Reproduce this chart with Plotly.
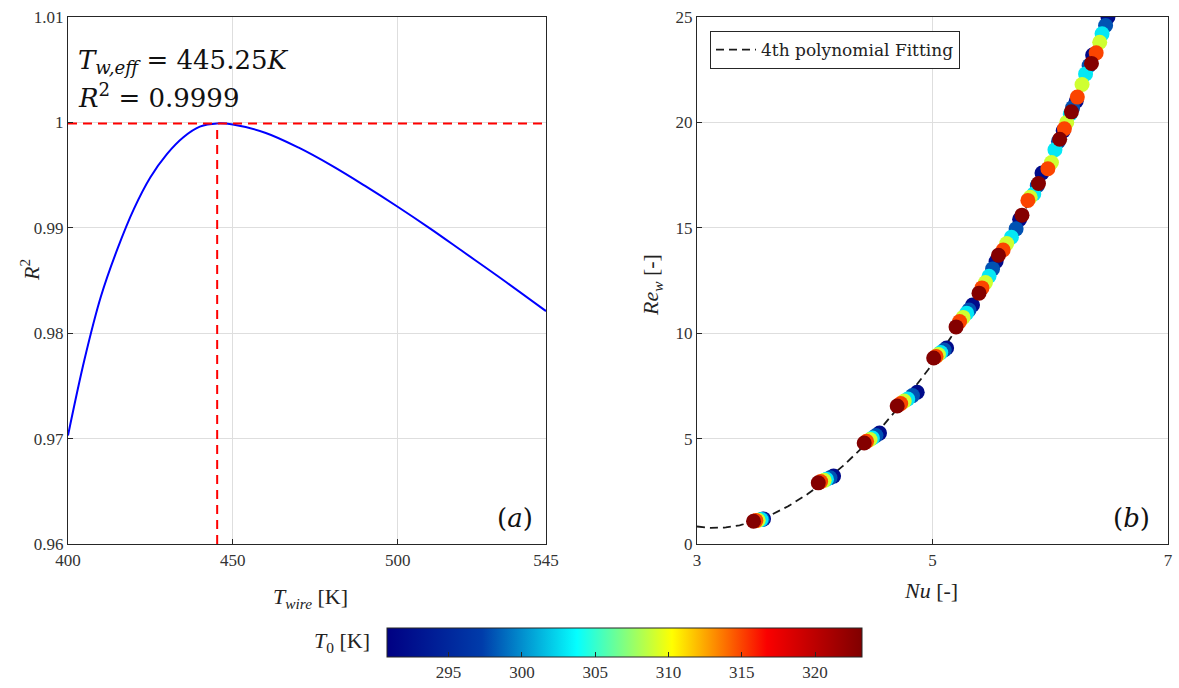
import numpy as np
import plotly.graph_objects as go

# ---- panel (a): coefficient of determination vs. wire temperature ----
t_wire = [400, 405, 410, 415, 420, 425, 430, 435, 440, 445.25, 450, 460, 470,
          480, 490, 500, 510, 520, 530, 545]
r2_curve = [0.9703, 0.9775, 0.9835, 0.9880, 0.9918, 0.9948, 0.9970, 0.9986,
            0.9996, 0.9999, 0.9998, 0.9990, 0.9976, 0.9959, 0.9940, 0.9920,
            0.9899, 0.9877, 0.9855, 0.9821]
t_eff = 445.25
r2_best = 0.9999

# ---- panel (b): Nusselt vs. wire Reynolds number, coloured by T0 ----
t0_levels = [292, 298, 303, 309, 315, 323]
nu_groups = [
    [3.565, 3.555, 3.545, 3.52, 3.50, 3.48],
    [4.16, 4.13, 4.10, 4.08, 4.05, 4.03],
    [4.55, 4.52, 4.49, 4.47, 4.44, 4.42],
    [4.87, 4.83, 4.79, 4.76, 4.73, 4.70],
    [5.12, 5.10, 5.07, 5.05, 5.03, 5.01],
    [5.34, 5.31, 5.29, 5.26, 5.23, 5.20],
    [5.54, 5.51, 5.48, 5.45, 5.42, 5.395],
    [5.74, 5.71, 5.67, 5.63, 5.60, 5.56],
    [5.93, 5.89, 5.86, 5.83, 5.81, 5.76],
    [6.11, 6.07, 6.04, 6.01, 5.98, 5.90],
    [6.22, 6.19, 6.17, 6.14, 6.12, 6.08],
    [6.36, 6.33, 6.30, 6.27, 6.23, 6.18],
    [6.49, 6.47, 6.44, 6.42, 6.39, 6.35],
]
re_groups = [
    [1.19, 1.17, 1.16, 1.13, 1.11, 1.08],
    [3.22, 3.14, 3.07, 3.02, 2.96, 2.90],
    [5.26, 5.15, 5.03, 4.96, 4.87, 4.79],
    [7.20, 7.04, 6.88, 6.78, 6.66, 6.55],
    [9.30, 9.20, 9.08, 8.99, 8.90, 8.82],
    [11.34, 11.10, 10.95, 10.75, 10.55, 10.30],
    [13.40, 13.05, 12.70, 12.40, 12.15, 11.90],
    [15.40, 14.95, 14.55, 14.25, 13.95, 13.70],
    [17.60, 17.00, 16.60, 16.45, 16.30, 15.60],
    [19.60, 19.10, 18.70, 18.10, 17.80, 17.10],
    [21.00, 20.70, 20.40, 20.00, 19.70, 19.20],
    [23.20, 22.70, 22.30, 21.80, 21.20, 20.50],
    [25.00, 24.60, 24.20, 23.80, 23.30, 22.80],
]

nu_pts = [v for g in nu_groups for v in g]
re_pts = [v for g in re_groups for v in g]
t0_pts = [t for g in nu_groups for t in t0_levels]

# 4th-order polynomial Re(Nu) fitted to the measurements
coef = np.polyfit(nu_pts, re_pts, 4)
nu_fit = np.linspace(3.0, max(nu_pts), 300)
re_fit = np.polyval(coef, nu_fit)

W, H = 1179, 688
SERIF = "Liberation Serif"
MATH = "DejaVu Serif"
AX = "#262626"
GRID = "#dedede"

fig = go.Figure()

fig.add_trace(go.Scatter(
    x=t_wire, y=r2_curve, mode="lines",
    line=dict(color="#0000ff", width=2, shape="spline", smoothing=1.0),
    showlegend=False, xaxis="x", yaxis="y"))
fig.add_trace(go.Scatter(
    x=[400, 545], y=[r2_best, r2_best], mode="lines",
    line=dict(color="#ff0000", width=2, dash="9px,6px"), showlegend=False, xaxis="x", yaxis="y"))
fig.add_trace(go.Scatter(
    x=[t_eff, t_eff], y=[0.96, r2_best], mode="lines",
    line=dict(color="#ff0000", width=2, dash="9px,6px"), showlegend=False, xaxis="x", yaxis="y"))

fig.add_trace(go.Scatter(
    x=nu_fit, y=re_fit, mode="lines", name="4th polynomial Fitting",
    line=dict(color="#1a1a1a", width=1.8, dash="8px,5px"), xaxis="x2", yaxis="y2"))
fig.add_trace(go.Scatter(
    x=nu_pts, y=re_pts, mode="markers", showlegend=False, xaxis="x2", yaxis="y2",
    marker=dict(
        size=15, color=t0_pts, colorscale="Jet", cmin=290.8, cmax=323.2,
        line=dict(width=0),
        colorbar=dict(
            orientation="h", x=624.5 / W, xanchor="center", y=1 - 628 / H, yanchor="top",
            len=475 / W, lenmode="fraction", thickness=29, thicknessmode="pixels",
            outlinewidth=1, outlinecolor=AX, ticks="inside", ticklen=5, tickcolor=AX,
            tickvals=[295, 300, 305, 310, 315, 320],
            tickfont=dict(family=SERIF, size=17, color="#333333"),
            xpad=0, ypad=0,
        ),
    )))

y_dom = [144 / H, 671 / H]
axis_common = dict(
    showline=True, linecolor=AX, linewidth=1.2, mirror=True, ticks="inside", ticklen=5,
    tickcolor=AX, showgrid=True, gridcolor=GRID, gridwidth=1, zeroline=False,
    automargin=False, tickfont=dict(family=SERIF, size=17, color="#333333"),
)

fig.update_layout(
    width=W, height=H, margin=dict(l=0, r=0, t=0, b=0, autoexpand=False),
    paper_bgcolor="white", plot_bgcolor="white",
    xaxis=dict(domain=[68 / W, 546 / W], range=[400, 545], tickvals=[400, 450, 500, 545],
               anchor="y", **axis_common),
    yaxis=dict(domain=y_dom, range=[0.96, 1.01], tickvals=[0.96, 0.97, 0.98, 0.99, 1.0, 1.01],
               ticktext=["0.96", "0.97", "0.98", "0.99", "1", "1.01"], anchor="x", **axis_common),
    xaxis2=dict(domain=[697 / W, 1168 / W], range=[3, 7], tickvals=[3, 5, 7],
                anchor="y2", **axis_common),
    yaxis2=dict(domain=y_dom, range=[0, 25], tickvals=[0, 5, 10, 15, 20, 25],
                anchor="x2", **axis_common),
    legend=dict(x=710 / W, y=1 - 31 / H, xanchor="left", yanchor="top",
                bgcolor="white", bordercolor=AX, borderwidth=1,
                font=dict(family=MATH, size=17, color="#222222"),
                itemwidth=40, tracegroupgap=0),
)

ann = [
    dict(x=76 / W, y=1 - 62 / H, text="<i>T</i><sub><i>w,eff</i></sub> = 445.25<i>K</i>",
         font=dict(family=MATH, size=26, color="#111111")),
    dict(x=76 / W, y=1 - 96 / H, text="<i>R</i><sup>2</sup> = 0.9999",
         font=dict(family=MATH, size=26, color="#111111")),
    dict(x=495 / W, y=1 - 518 / H, text="(<i>a</i>)",
         font=dict(family=MATH, size=26, color="#111111")),
    dict(x=1111 / W, y=1 - 518 / H, text="(<i>b</i>)",
         font=dict(family=MATH, size=26, color="#111111")),
]
for a in ann:
    fig.add_annotation(xref="paper", yref="paper", xanchor="left", yanchor="middle",
                       showarrow=False, **a)

titles = [
    dict(x=310 / W, y=1 - 598 / H, text="<i>T</i><sub><i>wire</i></sub> [K]", angle=0, size=22),
    dict(x=931 / W, y=1 - 590 / H, text="<i>Nu</i> [-]", angle=0, size=22),
    dict(x=30 / W, y=1 - 270 / H, text="<i>R</i><sup>2</sup>", angle=-90, size=22),
    dict(x=652 / W, y=1 - 285 / H, text="<i>Re</i><sub><i>w</i></sub> [-]", angle=-90, size=22),
    dict(x=342 / W, y=1 - 642 / H, text="<i>T</i><sub>0</sub> [K]", angle=0, size=22),
]
for t in titles:
    fig.add_annotation(xref="paper", yref="paper", xanchor="center", yanchor="middle",
                       showarrow=False, x=t["x"], y=t["y"], text=t["text"], textangle=t["angle"],
                       font=dict(family=SERIF, size=t["size"], color="#222222"))

fig.write_html("out.html")
